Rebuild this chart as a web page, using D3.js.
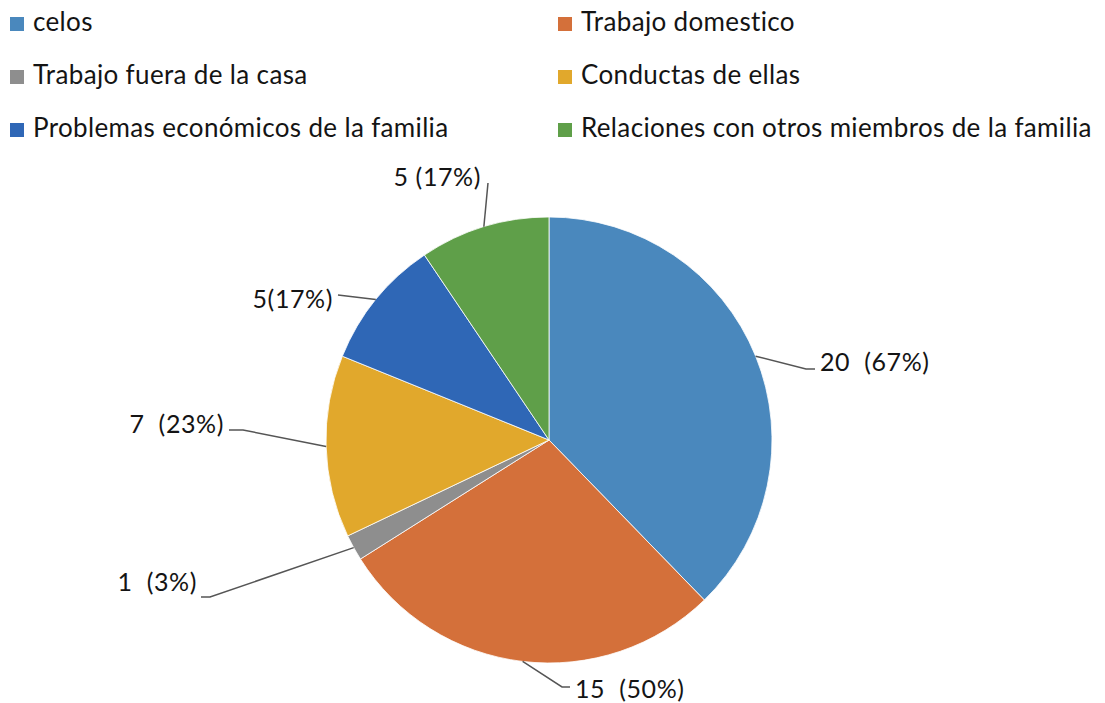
<!DOCTYPE html>
<html>
<head>
<meta charset="utf-8">
<script src="https://cdn.jsdelivr.net/npm/d3@7"></script>
<style>
  body { margin: 0; background: #fff; }
  svg text { font-family: Lato, "Open Sans", sans-serif; fill: #141414; }
</style>
</head>
<body>
<svg id="chart" width="1105" height="703"></svg>
<script>
// categories and values
var categories = ["celos", "Trabajo domestico", "Trabajo fuera de la casa",
  "Conductas de ellas", "Problemas económicos de la familia",
  "Relaciones con otros miembros de la familia"];
var values = [20, 15, 1, 7, 5, 5];
var labels = ["20  (67%)", "15  (50%)", "1  (3%)", "7  (23%)", "5(17%)", "5 (17%)"];
var colors = ["#4a88bd", "#d4703a", "#8e8e8e", "#e1a82c", "#2f67b6", "#5f9f49"];

// label layout: elbow point and text anchor, relative to pie centre
var labelLayout = [
  { elbow: [257, -71], end: [266, -71], text: [271, -69], anchor: "start" },
  { elbow: [13, 247], end: [21, 247], text: [26, 258], anchor: "start" },
  { elbow: [-339, 157], end: [-348, 157], text: [-352, 151], anchor: "end" },
  { elbow: [-306, -10], end: [-320, -10], text: [-325, -7], anchor: "end" },
  { elbow: [-211, -145], end: [-211, -145], text: [-216, -132], anchor: "end" },
  { elbow: [-61, -257], end: [-61, -257], text: [-68, -254], anchor: "end" }
];

var svg = d3.select("#chart");
var cx = 549, cy = 440, r = 223;

var pie = d3.pie().sort(null).value(function (d) { return d; });
var arcs = pie(values);
var arc = d3.arc().innerRadius(0).outerRadius(r);

var g = svg.append("g").attr("transform", "translate(" + cx + "," + cy + ")");

g.selectAll("path.slice")
  .data(arcs)
  .enter()
  .append("path")
  .attr("class", "slice")
  .attr("d", arc)
  .attr("fill", function (d, i) { return colors[i]; })
  .attr("stroke", "#fff")
  .attr("stroke-width", 0.8);

// leader lines start at the slice edge, mid angle
g.selectAll("polyline.leader")
  .data(arcs)
  .enter()
  .append("polyline")
  .attr("class", "leader")
  .attr("fill", "none")
  .attr("stroke", "#555")
  .attr("stroke-width", 1.5)
  .attr("points", function (d, i) {
    var a = (d.startAngle + d.endAngle) / 2;
    var p0 = [Math.sin(a) * r, -Math.cos(a) * r];
    var L = labelLayout[i];
    return [p0, L.elbow, L.end].map(function (p) { return p.join(","); }).join(" ");
  });

g.selectAll("text.lbl")
  .data(arcs)
  .enter()
  .append("text")
  .attr("class", "lbl")
  .attr("x", function (d, i) { return labelLayout[i].text[0]; })
  .attr("y", function (d, i) { return labelLayout[i].text[1]; })
  .attr("text-anchor", function (d, i) { return labelLayout[i].anchor; })
  .attr("font-size", 25)
  .attr("letter-spacing", 0.6)
  .attr("xml:space", "preserve")
  .text(function (d, i) { return labels[i]; });

// legend, two columns
var legend = svg.append("g");
var items = legend.selectAll("g.item")
  .data(categories)
  .enter()
  .append("g")
  .attr("class", "item")
  .attr("transform", function (d, i) {
    var col = i % 2, row = Math.floor(i / 2);
    return "translate(" + (col === 0 ? 10 : 558) + "," + (17 + row * 53) + ")";
  });

items.append("rect")
  .attr("width", 14)
  .attr("height", 14)
  .attr("fill", function (d, i) { return colors[i]; });

items.append("text")
  .attr("x", 23)
  .attr("y", 14)
  .attr("font-size", 26)
  .attr("letter-spacing", 0.35)
  .text(function (d) { return d; });
</script>
</body>
</html>
